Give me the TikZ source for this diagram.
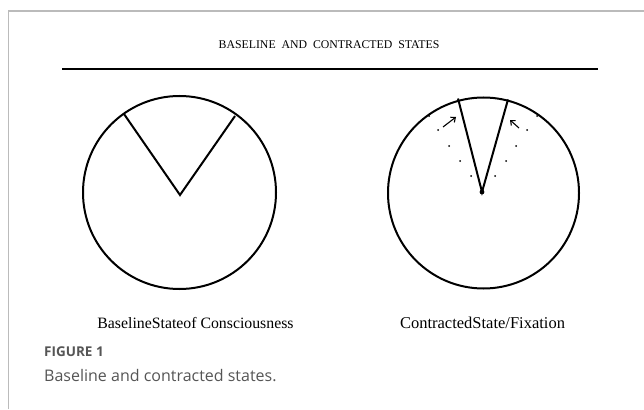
\documentclass[tikz,border=0pt]{standalone}
\usepackage{fontspec}
\setmainfont{Liberation Serif}
\newfontfamily\capfont{Open Sans}
\usetikzlibrary{arrows.meta}
\definecolor{framegrey}{HTML}{BBBBBB}
\definecolor{captext}{HTML}{555555}
\begin{document}
\begin{tikzpicture}[x=1pt,y=-1pt,
  wheel/.style={draw,line width=2pt},
  ray/.style={line width=2pt},
  dotmark/.style={fill,circle,inner sep=0pt,minimum size=2pt},
  smallarrow/.style={-{Straight Barb[length=3.8pt,width=6.5pt]},line width=1.1pt},
  lbl/.style={inner sep=0pt,font=\fontsize{16.5}{18}\selectfont}]
\useasboundingbox (0,0) rectangle (644,409);
% frame
\draw[framegrey,line width=1.5pt] (8.5,409) -- (8.5,11) -- (644,11);
% title and rule
\node[inner sep=0pt,font=\fontsize{11.8}{13}\selectfont] (title) at (329,45) {BASELINE\ \ AND\ \ CONTRACTED\ \ STATES};
\coordinate (rl) at (62,69);
\coordinate (rr) at (598,69);
\draw[line width=2.5pt] (rl) -- (rr);
% left circle
\coordinate (c1) at (179.5,192.5);
\draw[wheel] (c1) circle[radius=96.5];
\coordinate (a1) at (180,195);
\coordinate (l1) at (124,114);
\coordinate (r1) at (235,116);
\draw[ray,line join=miter] (l1) -- (a1) -- (r1);
% right circle
\coordinate (c2) at (483.5,193);
\draw[wheel] (c2) circle[radius=95.5];
\coordinate (a2) at (482,192);
\coordinate (l2) at (458,98.5);
\coordinate (r2) at (508,99.5);
\draw[ray,line join=miter] (l2) -- (a2) -- (r2);
\fill (a2) circle[radius=2.4pt];
% dots
\foreach \p [count=\i] in {(429,116),(438,130),(449,146),(460,161),(471,176),
                 (537,116),(527,130),(516,146),(506,161),(495,176)}
  \node[dotmark] (d\i) at \p {};
% arrows
\coordinate (la0) at (443,127);
\coordinate (la1) at (456,117);
\coordinate (ra0) at (519,128);
\coordinate (ra1) at (510,120);
\draw[smallarrow] (la0) -- (la1);
\draw[smallarrow] (ra0) -- (ra1);
% labels
\node[lbl,font=\fontsize{15.8}{18}\selectfont] (lab1) at (195.5,323) {BaselineStateof Consciousness};
\node[lbl] (lab2) at (482.5,323) {ContractedState/Fixation};
% caption
\node[anchor=west,inner sep=0pt,text=captext,font=\capfont\bfseries\fontsize{13.5}{15}\selectfont] (fig) at (44,352) {FIGURE 1};
\node[anchor=west,inner sep=0pt,text=captext,font=\capfont\fontsize{16}{18}\selectfont] (cap) at (44,376) {Baseline and contracted states.};
\end{tikzpicture}
\end{document}
